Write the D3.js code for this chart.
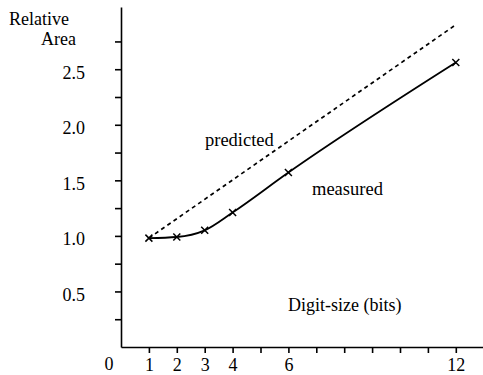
<!DOCTYPE html>
<html>
<head>
<style>
  body { margin: 0; background: #fff; }
  svg text { font-family: "Liberation Serif", "Times New Roman", serif; fill: #000; }
</style>
</head>
<body>
<svg width="483" height="375"></svg>
<script src="https://d3js.org/d3.v7.min.js"></script>
<script>
// digit size (bits) vs relative area
var measuredX = [1, 2, 3, 4, 6, 12];
var measuredY = [0.98, 0.99, 1.05, 1.21, 1.57, 2.56];
var predictedX = [1, 12];
var predictedY = [0.98, 2.9];
var xTicks = [1, 2, 3, 4, 5, 6, 7, 8, 9, 10, 11, 12];
var xLabels = [1, 2, 3, 4, 6, 12];
var yTicks = [0.25, 0.5, 0.75, 1.0, 1.25, 1.5, 1.75, 2.0, 2.25, 2.5, 2.75];
var yLabels = [0.5, 1.0, 1.5, 2.0, 2.5];

var svg = d3.select("svg");

var x = d3.scaleLinear().domain([0, 13]).range([121, 483.7]);
var y = d3.scaleLinear().domain([0, 3.06]).range([347, 7]);

// x axis
var gx = svg.append("g")
    .attr("transform", "translate(0," + y(0) + ")")
    .call(d3.axisBottom(x)
      .tickValues(xTicks)
      .tickSize(6)
      .tickSizeOuter(0)
      .tickPadding(5)
      .tickFormat(function(d) { return xLabels.indexOf(d) >= 0 ? d : ""; }));
gx.selectAll("path, line").attr("stroke", "#000").attr("stroke-width", 1.6);
gx.selectAll("text").attr("font-size", "18px").attr("font-family", null);

// the origin label sits left of the axis
svg.append("text")
    .attr("x", x(0) - 12)
    .attr("y", 370)
    .attr("text-anchor", "middle")
    .attr("font-size", "18px")
    .text("0");

// y axis
var gy = svg.append("g")
    .attr("transform", "translate(" + x(0) + ",0)")
    .call(d3.axisLeft(y)
      .tickValues(yTicks)
      .tickSize(6)
      .tickSizeOuter(0)
      .tickPadding(30)
      .tickFormat(function(d) { return yLabels.indexOf(d) >= 0 ? d3.format(".1f")(d) : ""; }));
gy.selectAll("path, line").attr("stroke", "#000").attr("stroke-width", 1.6);
gy.selectAll("text").attr("font-size", "18px").attr("font-family", null).attr("dy", "0.5em");

// axis titles
svg.append("text").attr("x", 9).attr("y", 25).attr("font-size", "18px").text("Relative");
svg.append("text").attr("x", 41).attr("y", 45).attr("font-size", "18px").text("Area");

// predicted (dashed)
var predicted = predictedX.map(function(d, i) { return [d, predictedY[i]]; });
svg.append("path")
    .datum(predicted)
    .attr("fill", "none")
    .attr("stroke", "#000")
    .attr("stroke-width", 1.7)
    .attr("stroke-dasharray", "4,3.5")
    .attr("d", d3.line().x(function(d) { return x(d[0]); }).y(function(d) { return y(d[1]); }));

// measured (solid, smooth)
var measured = measuredX.map(function(d, i) { return [d, measuredY[i]]; });
svg.append("path")
    .datum(measured)
    .attr("fill", "none")
    .attr("stroke", "#000")
    .attr("stroke-width", 1.8)
    .attr("d", d3.line().curve(d3.curveMonotoneX)
      .x(function(d) { return x(d[0]); }).y(function(d) { return y(d[1]); }));

// x markers
var s = 3.5;
svg.append("g").selectAll("path")
  .data(measured)
  .enter().append("path")
    .attr("fill", "none")
    .attr("stroke", "#000")
    .attr("stroke-width", 1.5)
    .attr("d", function(d) {
      var cx = x(d[0]), cy = y(d[1]);
      return "M" + (cx - s) + "," + (cy - s) + "L" + (cx + s) + "," + (cy + s) +
             "M" + (cx - s) + "," + (cy + s) + "L" + (cx + s) + "," + (cy - s);
    });

// labels
svg.append("text").attr("x", 205).attr("y", 146).attr("font-size", "18.5px").text("predicted");
svg.append("text").attr("x", 312).attr("y", 195).attr("font-size", "18.5px").text("measured");
svg.append("text").attr("x", 288).attr("y", 311).attr("font-size", "18px").text("Digit-size (bits)");
</script>
</body>
</html>
